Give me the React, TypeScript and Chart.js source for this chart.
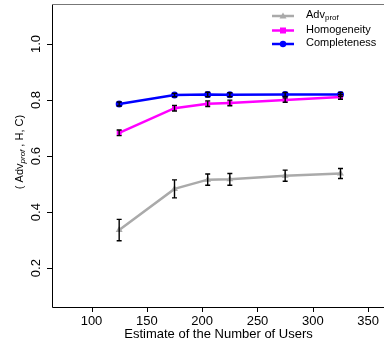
import React, { useEffect, useRef } from "react";
import { Chart, registerables } from "chart.js";

Chart.register(...registerables);

const users = [125, 175, 205, 225, 275, 325];
const advProf = [0.336, 0.483, 0.516, 0.517, 0.530, 0.538];
const advProfErr = [0.038, 0.032, 0.020, 0.021, 0.020, 0.018];
const homogeneity = [0.683, 0.771, 0.787, 0.790, 0.800, 0.811];
const homogeneityErr = [0.010, 0.010, 0.010, 0.010, 0.008, 0.008];
const completeness = [0.786, 0.818, 0.820, 0.819, 0.820, 0.820];
const completenessErr = [0.007, 0.006, 0.008, 0.007, 0.007, 0.007];
const xTicks = [100, 150, 200, 250, 300, 350];
const yTicks = [0.2, 0.4, 0.6, 0.8, 1.0];

const FONT = "'Liberation Sans', Arial, sans-serif";

const errors = [advProfErr, homogeneityErr, completenessErr];

const customPlugin = {
  id: "custom",
  afterDatasetsDraw(chart: any) {
    const ctx = chart.ctx;
    const xs = chart.scales.x;
    const ys = chart.scales.y;
    const area = chart.chartArea;
    ctx.save();
    // error bars
    ctx.strokeStyle = "#000";
    ctx.lineWidth = 1.4;
    chart.data.datasets.forEach((ds: any, i: number) => {
      ds.data.forEach((p: any, j: number) => {
        const e = errors[i][j];
        const px = xs.getPixelForValue(p.x);
        const y1 = ys.getPixelForValue(p.y - e);
        const y2 = ys.getPixelForValue(p.y + e);
        ctx.beginPath();
        ctx.moveTo(px, y1);
        ctx.lineTo(px, y2);
        ctx.moveTo(px - 2.5, y1);
        ctx.lineTo(px + 2.5, y1);
        ctx.moveTo(px - 2.5, y2);
        ctx.lineTo(px + 2.5, y2);
        ctx.stroke();
      });
    });
    // axes lines
    ctx.lineWidth = 1;
    ctx.strokeStyle = "#000";
    ctx.beginPath();
    ctx.moveTo(area.left + 0.5, area.top);
    ctx.lineTo(area.left + 0.5, area.bottom + 0.5);
    ctx.lineTo(chart.width, area.bottom + 0.5);
    ctx.stroke();
    ctx.strokeStyle = "#777";
    ctx.beginPath();
    ctx.moveTo(area.left, area.top + 0.5);
    ctx.lineTo(chart.width, area.top + 0.5);
    ctx.stroke();
    // y ticks
    ctx.strokeStyle = "#000";
    ctx.fillStyle = "#000";
    ctx.font = `13px ${FONT}`;
    ctx.textAlign = "center";
    ctx.textBaseline = "middle";
    yTicks.forEach((v) => {
      const py = ys.getPixelForValue(v);
      ctx.beginPath();
      ctx.moveTo(area.left - 5, Math.round(py) + 0.5);
      ctx.lineTo(area.left, Math.round(py) + 0.5);
      ctx.stroke();
      ctx.save();
      ctx.translate(36, py);
      ctx.rotate(-Math.PI / 2);
      ctx.fillText(v.toFixed(1), 0, 0);
      ctx.restore();
    });
    // x ticks
    xTicks.forEach((v) => {
      const px = xs.getPixelForValue(v);
      ctx.beginPath();
      ctx.moveTo(Math.round(px) + 0.5, area.bottom);
      ctx.lineTo(Math.round(px) + 0.5, area.bottom + 5);
      ctx.stroke();
      ctx.fillText(String(v), px, 321);
    });
    // x title
    ctx.fillText("Estimate of the Number of Users", 218.5, 334);
    // y title
    ctx.save();
    ctx.translate(20, 152);
    ctx.rotate(-Math.PI / 2);
    ctx.textAlign = "left";
    ctx.textBaseline = "middle";
    const parts: [string, string, number][] = [
      ["( ", `11px ${FONT}`, 0],
      ["Adv", `11px ${FONT}`, 0],
      ["prof", `italic 8px ${FONT}`, 3],
      [" , H, C)", `11px ${FONT}`, 0],
    ];
    let total = 0;
    parts.forEach(([t, f]) => {
      ctx.font = f;
      total += ctx.measureText(t).width;
    });
    let cx = -total / 2;
    parts.forEach(([t, f, dy]) => {
      ctx.font = f;
      ctx.fillText(t, cx, dy);
      cx += ctx.measureText(t).width;
    });
    ctx.restore();
    // legend
    const items = [
      { label: "Adv", sub: "prof", color: "#aaaaaa", shape: "triangle" },
      { label: "Homogeneity", sub: "", color: "#ff00ff", shape: "rect" },
      { label: "Completeness", sub: "", color: "#0000ff", shape: "circle" },
    ];
    const rowsY = [16, 30.5, 44];
    items.forEach((it, i) => {
      const y = rowsY[i];
      ctx.strokeStyle = it.color;
      ctx.fillStyle = it.color;
      ctx.lineWidth = 2.5;
      ctx.beginPath();
      ctx.moveTo(272, y);
      ctx.lineTo(294, y);
      ctx.stroke();
      const mx = 283;
      ctx.beginPath();
      if (it.shape === "triangle") {
        ctx.moveTo(mx, y - 3.5);
        ctx.lineTo(mx + 3.5, y + 2.5);
        ctx.lineTo(mx - 3.5, y + 2.5);
        ctx.closePath();
      } else if (it.shape === "rect") {
        ctx.rect(mx - 3, y - 3, 6, 6);
      } else {
        ctx.arc(mx, y, 3.2, 0, Math.PI * 2);
      }
      ctx.fill();
      ctx.fillStyle = "#000";
      ctx.textAlign = "left";
      ctx.textBaseline = "middle";
      ctx.font = `11px ${FONT}`;
      ctx.fillText(it.label, 306, y - 1);
      if (it.sub) {
        const w = ctx.measureText(it.label).width;
        ctx.font = `8px ${FONT}`;
        ctx.fillText(it.sub, 306 + w, y + 2);
      }
    });
    ctx.restore();
  },
};

export default function App() {
  const ref = useRef<HTMLCanvasElement | null>(null);
  useEffect(() => {
    if (!ref.current) return;
    const mk = (ys: number[]) => users.map((x, i) => ({ x, y: ys[i] }));
    const chart = new Chart(ref.current, {
      type: "line",
      data: {
        datasets: [
          {
            label: "Adv_prof",
            data: mk(advProf),
            borderColor: "#aaaaaa",
            backgroundColor: "#aaaaaa",
            borderWidth: 2.5,
            pointStyle: "triangle",
            pointRadius: 4,
            pointBorderWidth: 0,
            tension: 0,
          },
          {
            label: "Homogeneity",
            data: mk(homogeneity),
            borderColor: "#ff00ff",
            backgroundColor: "#ff00ff",
            borderWidth: 2.5,
            pointStyle: "rect",
            pointRadius: 3.5,
            pointBorderWidth: 0,
            tension: 0,
          },
          {
            label: "Completeness",
            data: mk(completeness),
            borderColor: "#0000ff",
            backgroundColor: "#0000ff",
            borderWidth: 2.5,
            pointStyle: "circle",
            pointRadius: 3.5,
            pointBorderWidth: 0,
            tension: 0,
          },
        ],
      },
      options: {
        responsive: false,
        animation: false,
        layout: { padding: { top: 3, left: 0, right: 0, bottom: 0 } },
        plugins: { legend: { display: false }, tooltip: { enabled: false } },
        scales: {
          x: {
            type: "linear",
            min: 64.3,
            max: 360.7,
            grid: { display: false },
            border: { display: false },
            ticks: { display: false },
            afterFit: (s: any) => {
              s.height = 41;
            },
          },
          y: {
            type: "linear",
            min: 0.0613,
            max: 1.143,
            grid: { display: false },
            border: { display: false },
            ticks: { display: false },
            afterFit: (s: any) => {
              s.width = 52;
            },
          },
        },
      },
      plugins: [customPlugin],
    } as any);
    return () => chart.destroy();
  }, []);
  return (
    <div style={{ position: "fixed", left: 0, top: 0, width: 384, height: 348, background: "#fff" }}>
      <canvas ref={ref} width={384} height={348} style={{ display: "block" }} />
    </div>
  );
}
